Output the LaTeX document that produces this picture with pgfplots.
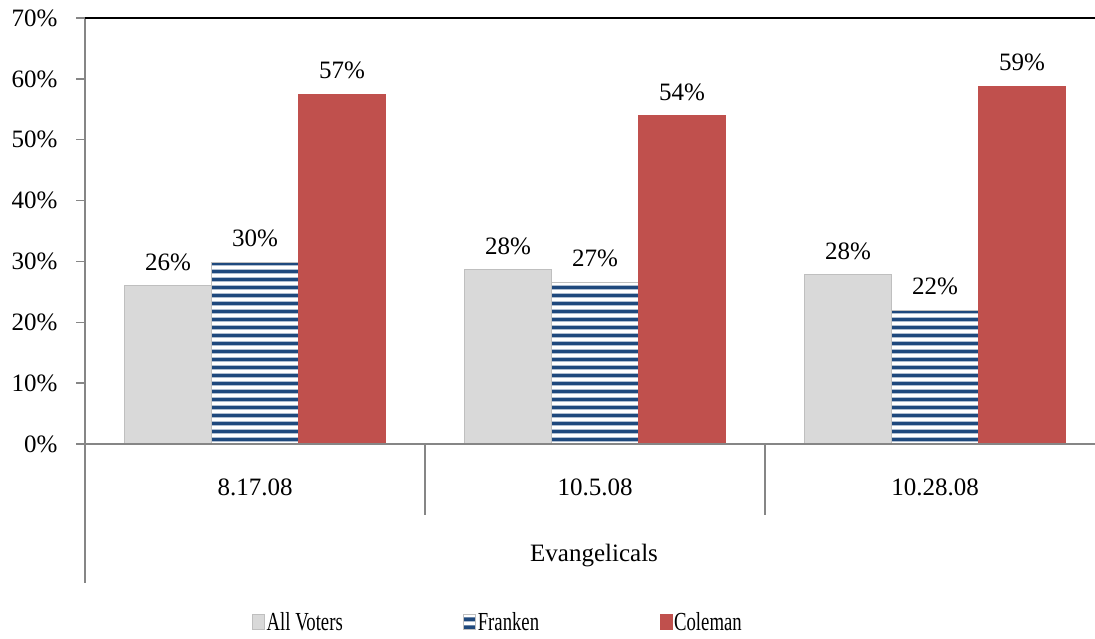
\documentclass[border=0pt]{standalone}
\usepackage{pgfplots}
\pgfplotsset{compat=1.18}
\usepackage{pgfplotstable}
\usepackage{fontspec}
\setmainfont{Liberation Serif}
\newfontfamily\narrowserif[FakeStretch=0.72]{Liberation Serif}
\usetikzlibrary{patterns}

\definecolor{allgray}{RGB}{217,217,217}
\definecolor{allgrayedge}{RGB}{191,191,191}
\definecolor{frblue}{RGB}{31,73,125}
\definecolor{colred}{RGB}{192,80,77}
\definecolor{axgray}{RGB}{134,134,134}

% horizontal stripes for Franken
\pgfdeclarepatternformonly{frstripes}{\pgfqpoint{0pt}{0pt}}{\pgfqpoint{10pt}{7.5pt}}{\pgfqpoint{10pt}{7.5pt}}{%
  \pgfpathrectangle{\pgfqpoint{-1pt}{1.8pt}}{\pgfqpoint{12pt}{4pt}}\pgfusepath{fill}}

\pgfplotstableread{
x y lab
0 26.1 26
1 28.6 28
2 27.9 28
}\allvoters
\pgfplotstableread{
x y lab
0 29.9 30
1 26.6 27
2 22.0 22
}\franken
\pgfplotstableread{
x y lab
0 57.5 57
1 53.9 54
2 58.8 59
}\coleman

\begin{document}
\begin{tikzpicture}
\begin{axis}[
    at={(85pt,194pt)}, anchor=south west,
    scale only axis, width=1010pt, height=426pt,
    xmin=-0.5, xmax=2.4706,
    ymin=0, ymax=70,
    ytick={0,10,...,70},
    yticklabel={\pgfmathprintnumber{\tick}\%},
    /pgf/number format/assume math mode=true,
    xtick={0,1,2},
    xticklabels={8.17.08, 10.5.08, 10.28.08},
    xtick style={draw=none},
    ytick style={draw=axgray, line width=1.5pt},
    ytick pos=left,
    tick align=outside,
    major tick length=9pt,
    axis line style={draw=none},
    ticklabel style={font=\fontsize{25}{30}\selectfont},
    yticklabel style={xshift=-15pt},
    xticklabel style={anchor=center, yshift=-34pt},
    xlabel={Evangelicals},
    xlabel style={at={(axis description cs:0.504,0)}, anchor=center, yshift=-112pt, font=\fontsize{25}{30}\selectfont},
    ybar=0pt, bar width=87pt,
    clip=false,
    point meta=explicit symbolic,
    nodes near coords={\pgfplotspointmeta\%},
    nodes near coords style={font=\fontsize{25}{30}\selectfont, anchor=south, yshift=11pt},
    legend columns=-1,
    legend style={at={(axis description cs:0,0)}, anchor=west, xshift=167pt, yshift=-178pt,
        draw=none, fill=none, inner sep=0pt,
        font=\narrowserif\fontsize{26}{30}\selectfont,
        /tikz/every even column/.append style={column sep=119pt},
        nodes={inner xsep=1.5pt}},
    legend image code/.code={\draw[#1] (0pt,-7.5pt) rectangle (12pt,7.5pt);},
]
\addplot[fill=allgray, draw=allgrayedge, line width=1pt] table[x=x, y=y, meta=lab] {\allvoters};
\addplot[fill=white, draw=allgrayedge, line width=1pt, postaction={pattern=frstripes, pattern color=frblue}] table[x=x, y=y, meta=lab] {\franken};
\addplot[fill=colred, draw=colred, line width=1pt] table[x=x, y=y, meta=lab] {\coleman};
\legend{All Voters, Franken, Coleman}
\draw[axgray, line width=1.5pt] ([xshift=-9pt]rel axis cs:0,0) -- (rel axis cs:1,0);
\draw[axgray, line width=1.5pt] (rel axis cs:0,1) -- ([yshift=-139pt]rel axis cs:0,0);
\draw[axgray, line width=1.5pt] (axis cs:0.5,0) -- ([yshift=-71pt]axis cs:0.5,0);
\draw[axgray, line width=1.5pt] (axis cs:1.5,0) -- ([yshift=-71pt]axis cs:1.5,0);
\draw[black, line width=1.2pt] (rel axis cs:0,1) -- (rel axis cs:1,1);
\end{axis}
\pgfresetboundingbox
\useasboundingbox (0,0) rectangle (1095pt,638pt);
\end{tikzpicture}
\end{document}
